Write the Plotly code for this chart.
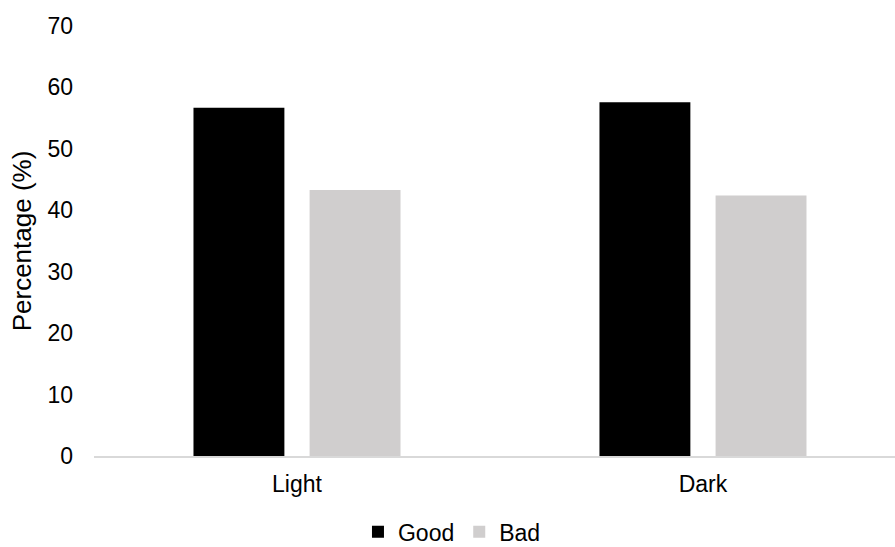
import plotly.graph_objects as go

# Share of ratings per lighting condition
categories = ["Light", "Dark"]
good = [56.7, 57.6]
bad = [43.3, 42.4]
y_ticks = [0, 10, 20, 30, 40, 50, 60, 70]

family = "Liberation Sans, Arial, sans-serif"
font = dict(family=family, size=23, color="#000000")

fig = go.Figure()
fig.add_trace(go.Bar(name="Good", x=categories, y=good, marker_color="#000000",
                     marker_line_width=0))
fig.add_trace(go.Bar(name="Bad", x=categories, y=bad, marker_color="#D0CECE",
                     marker_line_width=0))

fig.update_layout(
    width=895, height=547,
    margin=dict(l=94, r=0, t=26, b=91, autoexpand=False),
    paper_bgcolor="white", plot_bgcolor="white",
    font=font,
    barmode="group", bargap=0.428, bargroupgap=0.217,
    showlegend=True,
    legend=dict(orientation="h", xref="container", x=0.505, xanchor="center",
                yref="container", y=0.028, yanchor="middle",
                font=font, itemwidth=30, traceorder="normal"),
)
fig.update_xaxes(
    range=[-0.5, 1.473], showline=True, linecolor="#D9D9D9", linewidth=1.5,
    showgrid=False, ticks="", ticklabelstandoff=7, tickfont=font, automargin=False,
)
fig.update_yaxes(
    range=[0, 70], tickvals=y_ticks, showgrid=False, zeroline=False, showline=False,
    ticks="", ticklabelstandoff=20, tickfont=font, automargin=False,
    title=dict(text="Percentage (%)", font=dict(family=family, size=26, color="#000000"),
               standoff=8),
)

fig.write_html("out.html")
